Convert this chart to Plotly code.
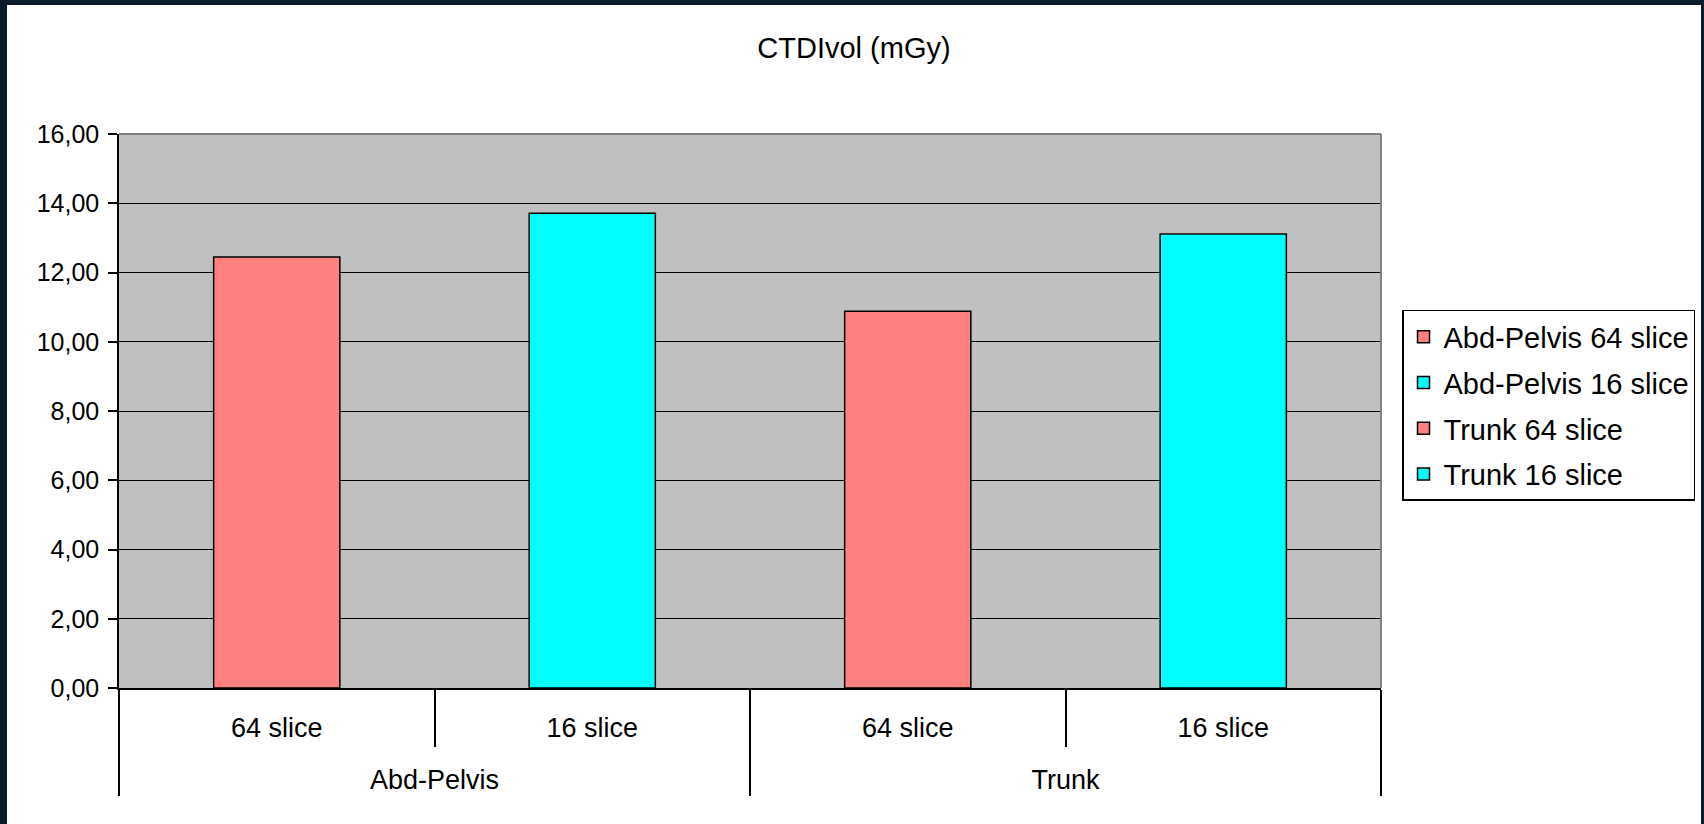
import plotly.graph_objects as go

# ---- data ----
groups = ["Abd-Pelvis", "Abd-Pelvis", "Trunk", "Trunk"]
subcats = ["64 slice", "16 slice", "64 slice", "16 slice"]
series_names = ["Abd-Pelvis 64 slice", "Abd-Pelvis 16 slice", "Trunk 64 slice", "Trunk 16 slice"]
values = [12.45, 13.71, 10.88, 13.11]
colors = ["#FF8080", "#00FFFF", "#FF8080", "#00FFFF"]
y_ticks = [0, 2, 4, 6, 8, 10, 12, 14, 16]

FONT = "Liberation Sans, Arial, sans-serif"

fig = go.Figure()
for i in range(len(values)):
    fig.add_trace(go.Bar(
        # leading line break pushes the group label to the second row depth
        x=[["<br>" + groups[i]], [subcats[i]]],
        y=[values[i]],
        name=series_names[i],
        legendgroup=series_names[i],
        marker=dict(color=colors[i], line=dict(color="black", width=1.5)),
        width=0.4,
        hoverinfo="y+name",
    ))

fig.update_layout(
    width=1694, height=819, autosize=False,
    margin=dict(l=112, r=320, t=129, b=136),
    paper_bgcolor="white",
    plot_bgcolor="#C0C0C0",
    barmode="overlay",
    separators=",.",
    font=dict(family=FONT, color="black", size=26),
    title=dict(text="CTDIvol (mGy)", xref="container", x=0.5, xanchor="center",
               yref="container", y=0.948, yanchor="middle",
               font=dict(family=FONT, size=29, color="black")),
    legend=dict(xref="container", yref="container", x=0.8235, y=0.6276,
                xanchor="left", yanchor="top",
                bordercolor="black", borderwidth=1.5, bgcolor="white",
                font=dict(family=FONT, size=29, color="black"),
                tracegroupgap=5, traceorder="grouped"),
    showlegend=True,
)

fig.update_yaxes(
    range=[0, 16], tickvals=y_ticks, tickformat=".2f",
    showgrid=True, gridcolor="black", gridwidth=1.3,
    showline=True, linecolor="black", linewidth=1.5,
    ticks="outside", ticklen=9, tickwidth=1.5, tickcolor="black",
    tickfont=dict(family=FONT, size=25, color="black"),
    ticklabelstandoff=4,
    zeroline=False, fixedrange=True,
)

fig.update_xaxes(
    type="multicategory",
    showline=True, linecolor="black", linewidth=1.5,
    ticks="outside", tickson="boundaries", ticklen=57, tickwidth=1.5, tickcolor="black",
    showdividers=True, dividercolor="black", dividerwidth=1.5,
    tickfont=dict(family=FONT, size=27, color="black"),
    ticklabelstandoff=15,
    showgrid=False, fixedrange=True,
)

# gray plot-area border on top and right (Excel plot area frame)
fig.add_shape(type="line", xref="paper", yref="paper", x0=0, x1=1, y0=1, y1=1,
              line=dict(color="#808080", width=2), layer="above")
fig.add_shape(type="line", xref="paper", yref="paper", x0=1, x1=1, y0=0, y1=1,
              line=dict(color="#808080", width=2), layer="above")

post = ("document.body.style.margin='5px 3px 0 7px';"
        "document.body.style.background='#0b1b2b';"
        "document.body.style.overflow='hidden';")

fig.write_html("out.html", post_script=post, config={"displayModeBar": False})
